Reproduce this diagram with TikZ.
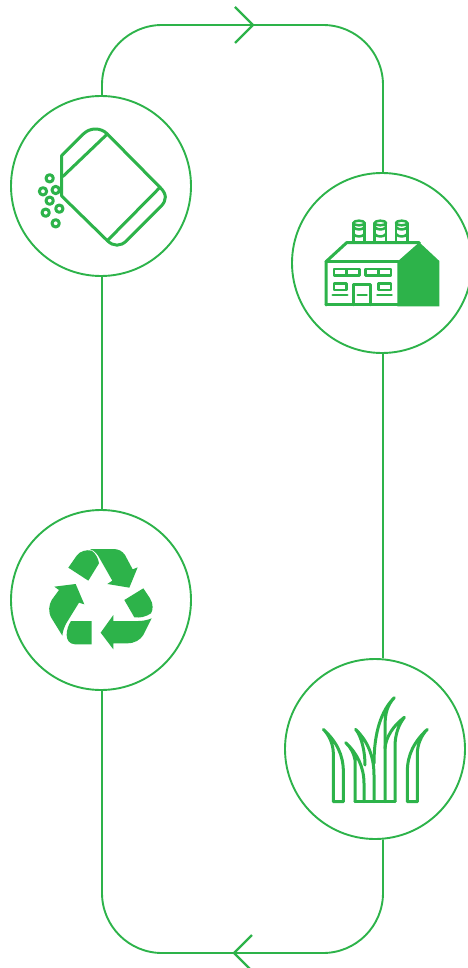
\documentclass[tikz,border=0pt]{standalone}
\definecolor{eco}{HTML}{2DB34A}
\tikzset{
  ring/.style={circle,draw=eco,line width=1.9pt,minimum size=180pt,inner sep=0pt,fill=white},
  link/.style={draw=eco,line width=1.9pt},
  chev/.style={draw=eco,line width=2.2pt},
  icon/.style={draw=eco,line width=3pt,line join=round,line cap=round},
  thin icon/.style={draw=eco,line width=2.5pt,line join=round,line cap=round},
  solid icon/.style={fill=eco,draw=none},
  zoomed/.style={x=0.33333pt,y=-0.33333pt}
}
\begin{document}
\begin{tikzpicture}[x=1pt,y=-1pt]
\useasboundingbox (0,0) rectangle (467,968);
\node[ring] (bag) at (101,186) {};
\node[ring] (factory) at (382,263) {};
\node[ring] (recycle) at (101,600) {};
\node[ring] (grass) at (375,749) {};
\coordinate (tl) at (102,25);
\coordinate (tr) at (383,25);
\coordinate (bl) at (102,953);
\coordinate (br) at (383,953);
\coordinate (topTip) at (253,25);
\coordinate (botTip) at (234,953);
% connectors
\draw[link,rounded corners=60pt] (bag.north -| tl) -- (tl) -- (tr) -- (factory.north -| tr);
\draw[link] (bag.south -| tl) -- (recycle.north -| tl);
\draw[link] (factory.south -| tr) -- (grass.85 -| tr);
\draw[link,rounded corners=60pt] (recycle.south -| bl) -- (bl) -- (br) -- (grass.-85 -| br);
% arrow heads
\draw[chev] ([shift={(-18,-18)}]topTip) -- (topTip) -- ([shift={(-18,18)}]topTip);
\draw[chev] ([shift={(18,-18)}]botTip) -- (botTip) -- ([shift={(18,18)}]botTip);
% bag icon
\begin{scope}[shift={(20,110)},zoomed]
\draw[icon] (125,137) -- (190,72) .. controls (210,52) and (243,52) .. (262,72) -- (420,232)
  .. controls (441,252) and (441,271) .. (422,290) -- (320,392) .. controls (302,410) and (280,410) .. (262,392)
  -- (125,258) -- cycle;
\draw[icon] (262,72) -- (128,200);
\draw[icon] (420,232) -- (262,392);
\foreach \p in {(89,205),(69,244),(107,240),(89,272),(77,308),(118,296),(107,340)}
  \draw[icon] \p circle[radius=11];
\end{scope}
% factory icon
\begin{scope}[shift={(310,205)},zoomed]
\fill[solid icon] (262,170) -- (328,112) -- (388,168) -- (388,304) -- (262,304) -- cycle;
\draw[icon] (48,300) -- (48,170) -- (110,113) -- (328,113);
\draw[icon] (48,170) -- (265,170);
\draw[icon] (48,300) -- (265,300);
\foreach \a/\b in {72/110,110/148,167/205,205/243}
  \draw[thin icon] (\a,192) rectangle (\b,211);
\draw[thin icon] (72,235) rectangle (110,255);
\draw[thin icon] (205,235) rectangle (243,255);
\draw[thin icon] (68,270) -- (112,270);
\draw[thin icon] (202,270) -- (245,270);
\draw[thin icon] (130,300) -- (130,238) -- (182,238) -- (182,300);
\draw[thin icon] (143,270) -- (170,270);
\foreach \c in {147,211,275}{
  \draw[thin icon] (\c-17,110) -- (\c-17,54) (\c+17,54) -- (\c+17,110);
  \draw[thin icon] (\c,54) ellipse[x radius=17,y radius=7];
  \draw[thin icon] (\c-17,66) .. controls (\c-10,76) and (\c+10,76) .. (\c+17,66);
  \draw[thin icon] (\c-17,87) .. controls (\c-10,97) and (\c+10,97) .. (\c+17,87);
}
\end{scope}
% recycling icon
\begin{scope}[shift={(35,535)},zoomed]
\fill[solid icon] (165,42) -- (235,42) .. controls (250,42) and (262,48) .. (270,60) -- (293,103) -- (308,97) -- (283,158) -- (217,147) -- (232,137) -- (195,72) .. controls (187,56) and (178,47) .. (165,42) -- cycle;
\fill[solid icon] (100,98) -- (125,62) .. controls (135,48) and (155,43) .. (170,47) .. controls (182,55) and (190,70) .. (192,85) -- (160,137) -- cycle;
\fill[solid icon] (268,195) -- (325,160) -- (345,190) .. controls (356,208) and (354,225) .. (348,235) .. controls (332,246) and (315,249) .. (298,247) -- cycle;
\fill[solid icon] (350,250) .. controls (335,256) and (322,258) .. (310,258) -- (235,258) -- (235,240) -- (197,293) -- (235,343) -- (235,325) -- (275,325) .. controls (300,325) and (315,315) .. (325,300) -- cycle;
\fill[solid icon] (170,258) -- (170,328) -- (120,328) .. controls (103,327) and (95,315) .. (95,300) .. controls (95,285) and (100,270) .. (108,258) -- cycle;
\fill[solid icon] (122,147) -- (148,208) -- (132,203) -- (95,263) .. controls (87,277) and (83,290) .. (82,302) -- (50,250) .. controls (38,230) and (42,210) .. (50,195) -- (72,165) -- (58,155) -- cycle;
\end{scope}
% grass icon
\begin{scope}[shift={(310,685)},zoomed]
\draw[icon] (70,350) -- (70,205) .. controls (70,180) and (58,150) .. (40,133) .. controls (80,170) and (100,210) .. (100,260) -- (100,350) -- cycle;
\draw[icon] (322,350) -- (322,205) .. controls (322,180) and (334,150) .. (352,133) .. controls (312,170) and (292,210) .. (292,260) -- (292,350) -- cycle;
\draw[icon] (135,350) -- (255,350);
\draw[icon] (135,350) -- (135,225) .. controls (132,205) and (122,187) .. (107,173) .. controls (140,203) and (162,245) .. (162,295) -- (162,350);
\draw[icon] (165,240) .. controls (165,200) and (155,155) .. (137,133) .. controls (170,165) and (192,210) .. (192,270) -- (192,350);
\draw[icon] (192,235) .. controls (192,140) and (215,75) .. (253,38) .. controls (232,60) and (225,85) .. (225,125) -- (225,350);
\draw[icon] (225,190) .. controls (228,155) and (250,122) .. (283,97) .. controls (265,120) and (255,150) .. (255,185) -- (255,350);
\end{scope}
\end{tikzpicture}
\end{document}
